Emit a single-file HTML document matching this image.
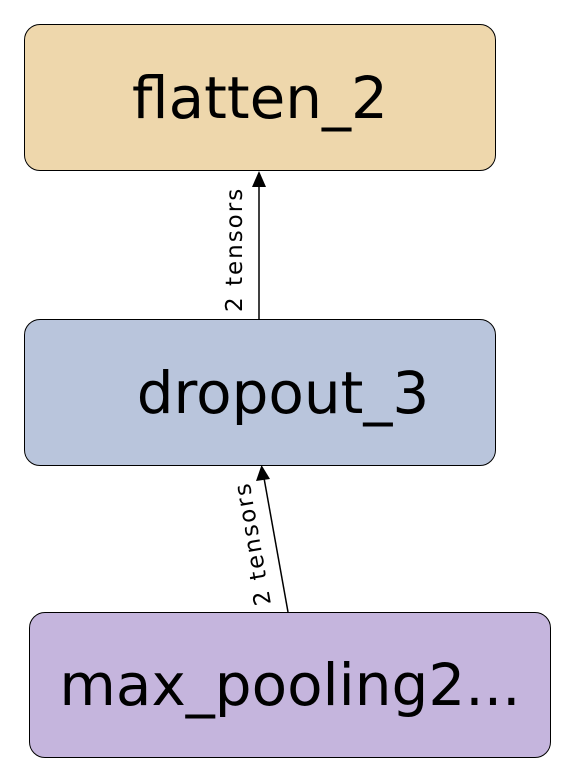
<!DOCTYPE html>
<html><head><style>
html,body{margin:0;padding:0;background:#fff;}
body{width:573px;height:783px;position:relative;overflow:hidden;font-family:"DejaVu Sans",sans-serif;}
.b{position:absolute;border:1.5px solid #000;border-radius:16px;box-sizing:border-box;display:flex;align-items:center;justify-content:center;font-size:58px;color:#000;}
</style></head><body>
<div class="b" style="left:24px;top:24px;width:472px;height:147px;background:#eed7ac;">flatten_2</div>
<div class="b" style="left:24px;top:319px;width:472px;height:147px;background:#b9c5dc;padding-left:46px;">dropout_3</div>
<div class="b" style="left:29px;top:612px;width:522px;height:146px;background:#c5b5dd;">max_pooling2...</div>
<svg width="573" height="783" style="position:absolute;left:0;top:0">
<line x1="259" y1="319" x2="259" y2="185" stroke="#000" stroke-width="1.5"/>
<polygon points="259,171 252,187 266,187" fill="#000"/>
<line x1="288" y1="612" x2="264" y2="478" stroke="#000" stroke-width="1.5"/>
<polygon points="261.5,465 256,481 270,479" fill="#000"/>
<text x="0" y="0" font-family="DejaVu Sans, sans-serif" font-size="23" letter-spacing="2" transform="translate(242,312) rotate(-90)">2 tensors</text>
<text x="0" y="0" font-family="DejaVu Sans, sans-serif" font-size="23" letter-spacing="2" transform="translate(271,604) rotate(-100)">2 tensors</text>
</svg>
</body></html>
